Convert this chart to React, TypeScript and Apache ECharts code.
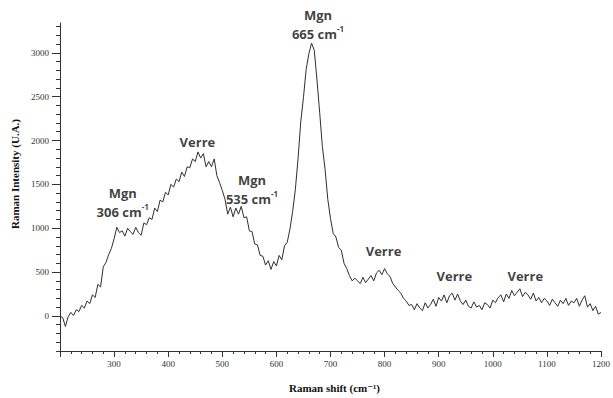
import React, { useEffect, useRef } from "react";
import * as echarts from "echarts";

// Raman shift sampling (cm-1)
const shiftStart = 200;
const shiftStep = 5;

// Raman intensity (U.A.), one value every 5 cm-1 from 200 to 1200
const intensity: number[] = [
  0, -20, -120, -10, 40, 5, 70, 50, 120, 90,
  170, 140, 240, 210, 360, 330, 560, 610, 700, 770,
  880, 1010, 950, 970, 910, 1000, 960, 930, 1010, 950,
  920, 1060, 1040, 1120, 1100, 1230, 1190, 1320, 1300, 1410,
  1380, 1500, 1470, 1560, 1530, 1640, 1590, 1700, 1690, 1790,
  1760, 1870, 1800, 1850, 1700, 1760, 1700, 1790, 1600, 1520,
  1430, 1330, 1160, 1240, 1130, 1230, 1160, 1250, 1120, 1130,
  970, 960, 820, 810, 690, 680, 580, 630, 530, 620,
  570, 690, 640, 800, 840, 990, 1190, 1440, 1790, 2210,
  2490, 2810, 2990, 3110, 3030, 2690, 2320, 1930, 1670, 1330,
  1110, 940, 900, 780, 750, 600, 540, 460, 400, 430,
  400, 370, 440, 380, 420, 460, 400, 490, 520, 470,
  540, 480, 450, 370, 330, 290, 260, 200, 170, 120,
  130, 70, 140, 90, 60, 150, 90, 130, 190, 110,
  210, 170, 240, 150, 230, 260, 180, 250, 170, 130,
  180, 110, 90, 160, 100, 120, 70, 150, 130, 90,
  180, 150, 210, 240, 160, 250, 200, 290, 230, 270,
  310, 220, 270, 240, 190, 260, 170, 210, 150, 200,
  170, 120, 190, 150, 110, 180, 140, 200, 120, 170,
  150, 200, 110, 180, 230, 100, 140, 60, 110, 20,
  40,
];

const yLabelValues = [0, 500, 1000, 1500, 2000, 2500, 3000];
const yMinorValues = [
  -400, -300, -200, -100, 0, 100, 200, 300, 400, 500, 600, 700, 800, 900, 1000,
  1100, 1200, 1300, 1400, 1500, 1600, 1700, 1800, 1900, 2000, 2100, 2200, 2300,
  2400, 2500, 2600, 2700, 2800, 2900, 3000, 3100, 3200, 3300,
];

// Peak annotations: label lines, and the (raman shift, intensity) of the label centre
const annotations: { top: string; bottom?: string; x: number; y: number }[] = [
  { top: "Mgn", bottom: "306", x: 316, y: 1294 },
  { top: "Verre", x: 454, y: 1987 },
  { top: "Mgn", bottom: "535", x: 555, y: 1440 },
  { top: "Mgn", bottom: "665", x: 677, y: 3328 },
  { top: "Verre", x: 798, y: 737 },
  { top: "Verre", x: 929, y: 452 },
  { top: "Verre", x: 1060, y: 452 },
];

export default function App() {
  const ref = useRef<HTMLDivElement>(null);
  useEffect(() => {
    if (!ref.current) return;
    const chart = echarts.init(ref.current, undefined, { renderer: "svg" });
    const data = intensity.map((v, i) => [shiftStart + i * shiftStep, v]);
    const annFont = '"Open Sans", "Noto Sans", sans-serif';
    const serif = '"Liberation Serif", "DejaVu Serif", serif';
    const richBase = { fontFamily: annFont, fontWeight: "bold", color: "#0d0d0d", textBorderWidth: 0, lineHeight: 19 };
    const option: any = {
      animation: false,
      backgroundColor: "#ffffff",
      grid: { left: 60, right: 10, top: 23, bottom: 46 },
      xAxis: {
        type: "value",
        min: 200,
        max: 1200,
        interval: 100,
        name: "Raman shift (cm⁻¹)",
        nameLocation: "middle",
        nameGap: 31,
        nameTextStyle: { fontFamily: serif, fontWeight: "bold", fontSize: 11, color: "#111", padding: [0, 0, 0, 8] },
        axisLine: { onZero: false, lineStyle: { color: "#333", width: 1 } },
        axisTick: { show: true, length: 6, lineStyle: { color: "#333" } },
        minorTick: { show: true, splitNumber: 5, length: 3, lineStyle: { color: "#333" } },
        splitLine: { show: false },
        axisLabel: {
          fontFamily: serif,
          fontSize: 9,
          color: "#333",
          margin: 8,
          formatter: (v: number) => (v === 200 ? "" : String(v)),
        },
      },
      yAxis: [
        {
          type: "value",
          min: -400,
          max: 3340,
          name: "Raman Intensity (U.A.)",
          nameLocation: "middle",
          nameGap: 37,
          nameTextStyle: { fontFamily: serif, fontWeight: "bold", fontSize: 11, color: "#111", padding: [0, 0, 0, 26] },
          axisLine: { show: true, lineStyle: { color: "#333", width: 1 } },
          axisTick: { show: true, length: 8, customValues: yLabelValues, lineStyle: { color: "#333" } },
          axisLabel: {
            customValues: yLabelValues,
            fontFamily: serif,
            fontSize: 9,
            color: "#333",
            margin: 11,
            formatter: (v: number) => String(v),
          },
          splitLine: { show: false },
        },
        {
          type: "value",
          min: -400,
          max: 3340,
          position: "left",
          axisLine: { show: false },
          axisTick: { show: true, length: 4, customValues: yMinorValues, lineStyle: { color: "#333" } },
          axisLabel: { show: false },
          splitLine: { show: false },
        },
      ],
      series: [
        {
          type: "line",
          data,
          yAxisIndex: 0,
          showSymbol: false,
          symbol: "none",
          lineStyle: { color: "#2e2e2e", width: 1 },
        },
        {
          type: "scatter",
          yAxisIndex: 0,
          symbolSize: 0,
          silent: true,
          itemStyle: { color: "transparent" },
          data: annotations.map((a) => ({
            value: [a.x, a.y],
            label: {
              show: true,
              position: "inside",
              formatter: a.bottom ? `{t|${a.top}}\n{b|${a.bottom} cm}{s|-1}` : `{t|${a.top}}`,
            },
          })),
          label: {
            color: "#0d0d0d",
            textBorderWidth: 0,
            textBorderColor: "transparent",
            rich: {
              t: { ...richBase, fontSize: 13, align: "center" },
              b: { ...richBase, fontSize: 13 },
              s: { ...richBase, fontSize: 8, verticalAlign: "top", padding: [0, 0, 6, 0] },
            },
          },
        },
      ],
    };
    chart.setOption(option);
    return () => chart.dispose();
  }, []);
  return <div ref={ref} style={{ width: 613, height: 398, position: "absolute", left: 0, top: 0 }} />;
}
